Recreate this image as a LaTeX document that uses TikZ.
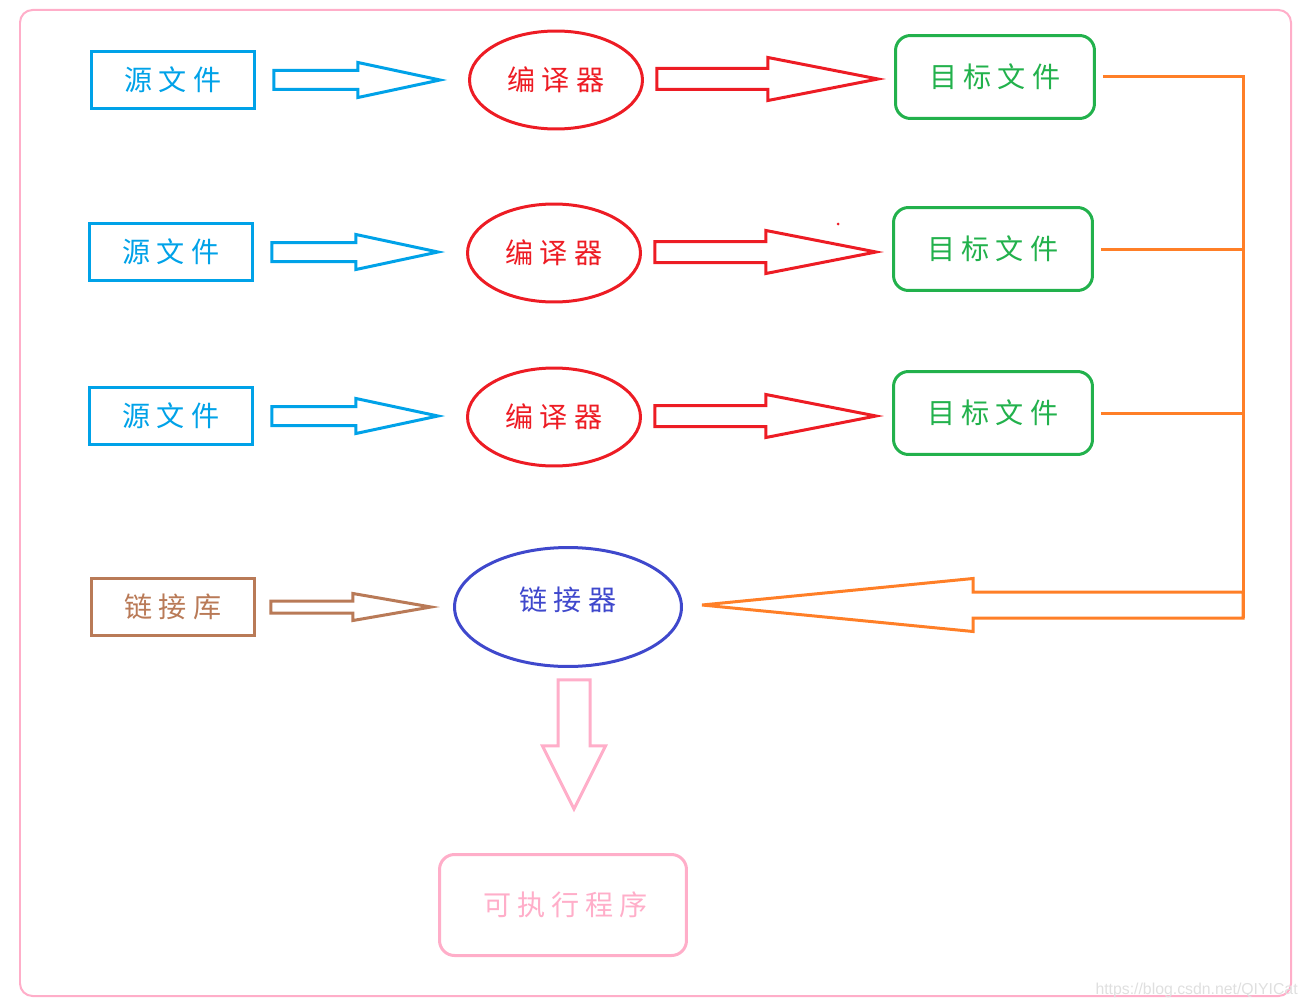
\documentclass[tikz,border=0pt]{standalone}
\usepackage{fontspec}
\newfontfamily\cjk{Noto Sans CJK SC}
\newfontfamily\urlfont{Liberation Sans}
\usetikzlibrary{shapes.geometric,calc}

\definecolor{srcblue}{RGB}{0,162,232}
\definecolor{cmpred}{RGB}{237,28,36}
\definecolor{objgreen}{RGB}{34,177,76}
\definecolor{busorange}{RGB}{255,127,39}
\definecolor{lnkblue}{RGB}{63,72,204}
\definecolor{libbrown}{RGB}{185,122,87}
\definecolor{exepink}{RGB}{255,174,201}

\newcommand\cgap{\hspace{0.12cm}}
% hollow block arrow: style, start, angle, length, head length, shaft half, head half
\newcommand\fatarrow[7]{%
  \draw[#1,shift={#2},rotate=#3] (0,-#6) -- (#4-#5,-#6) -- (#4-#5,-#7) -- (#4,0)
    -- (#4-#5,#7) -- (#4-#5,#6) -- (0,#6) -- cycle;}

\begin{document}
\begin{tikzpicture}[x=0.02cm,y=-0.02cm,
    cn/.style={font=\cjk\fontsize{16}{19}\selectfont,inner sep=0pt},
    thick line/.style={line width=0.06cm},
    filebox/.style={cn,thick line,draw,minimum width=3.26cm,minimum height=1.14cm},
    srcbox/.style={filebox,draw=srcblue,text=srcblue},
    libbox/.style={filebox,draw=libbrown,text=libbrown},
    comp/.style={cn,thick line,ellipse,draw=cmpred,text=cmpred,minimum width=3.46cm,minimum height=1.96cm},
    objbox/.style={cn,thick line,rounded corners=0.3cm,draw=objgreen,text=objgreen,minimum width=3.98cm,minimum height=1.66cm}]
    \useasboundingbox (0,0) rectangle (1308,1007);
    \draw[exepink,line width=0.04cm,rounded corners=0.25cm] (20,10) rectangle (1291,996);

    % Source files, compilers, object files
    \node[srcbox] (src1) at (173,80) {源\cgap 文\cgap 件};
    \node[srcbox] (src2) at (171,252) {源\cgap 文\cgap 件};
    \node[srcbox] (src3) at (171,416) {源\cgap 文\cgap 件};
    \node[comp] (cmp1) at (556,80) {编\cgap 译\cgap 器};
    \node[comp] (cmp2) at (554,253) {编\cgap 译\cgap 器};
    \node[comp] (cmp3) at (554,417) {编\cgap 译\cgap 器};
    \node[objbox] (obj1) at (995,77) {目\cgap 标\cgap 文\cgap 件};
    \node[objbox] (obj2) at (993,249) {目\cgap 标\cgap 文\cgap 件};
    \node[objbox] (obj3) at (993,413) {目\cgap 标\cgap 文\cgap 件};

    % Linking
    \node[libbox] (lib) at (173,607) {链\cgap 接\cgap 库};
    \node[cn,thick line,ellipse,draw=lnkblue,text=lnkblue,minimum width=4.54cm,minimum height=2.38cm] (lnk) at (568,607) {\raisebox{0.14cm}[\height][\depth]{链\cgap 接\cgap 器}};
    \node[cn,thick line,rounded corners=0.3cm,draw=exepink,text=exepink,minimum width=4.94cm,minimum height=2.02cm] (exe) at (563,905) {\hspace{0.1cm}可\cgap 执\cgap 行\cgap 程\cgap 序};

    % Block arrows
    \foreach \i in {1,2,3} {
        \fatarrow{srcblue,thick line}{($(src\i.east)+(18,0)$)}{0}{166}{82}{9.5}{17.5}
        \fatarrow{cmpred,thick line}{($(cmp\i.east)+(13,-1)$)}{0}{221}{110}{10.5}{21.5}
    }
    \fatarrow{libbrown,thick line}{($(lib.east)+(15,0)$)}{0}{160}{78}{6}{13.5}
    \fatarrow{exepink,thick line}{($(lnk.south)+(6,12)$)}{-90}{129}{63}{16}{31.5}

    % Object files to linker
    \coordinate (busend) at (1243,618);
    \draw[busorange,thick line] ($(obj1.east)+(7,0)$) -| (busend);
    \draw[busorange,thick line] ($(obj2.east)+(7,0)$) -- (obj2.east -| busend);
    \draw[busorange,thick line] ($(obj3.east)+(7,0)$) -- (obj3.east -| busend);
    \fatarrow{busorange,thick line}{($(busend)+(0,-13)$)}{180}{541}{271}{13}{26.5}

    \fill[cmpred] (838,224) circle (0.03cm);
    \node[anchor=east,inner sep=0pt,font=\urlfont\fontsize{9}{10}\selectfont,text=gray!25] (mark) at (1298,990) {https://blog.csdn.net/QIYICat};
\end{tikzpicture}
\end{document}
